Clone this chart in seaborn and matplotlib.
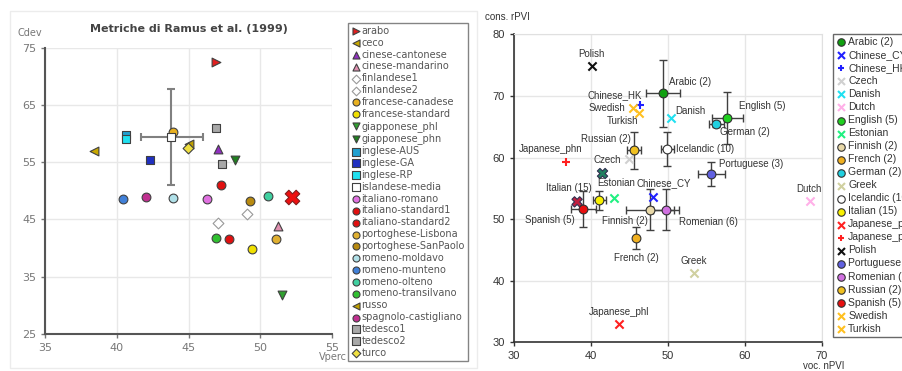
import numpy as np
import pandas as pd
import matplotlib
matplotlib.use("Agg")
import matplotlib.pyplot as plt
import seaborn as sns
from matplotlib.patches import Rectangle

# ---- left panel: Ramus metrics ----
names_l = ['arabo', 'ceco', 'cinese-cantonese', 'cinese-mandarino', 'finlandese1',
           'finlandese2', 'francese-canadese', 'francese-standard', 'giapponese_phl',
           'giapponese_phn', 'inglese-AUS', 'inglese-GA', 'inglese-RP', 'islandese-media',
           'italiano-romano', 'italiano-standard1', 'italiano-standard2',
           'portoghese-Lisbona', 'portoghese-SanPaolo', 'romeno-moldavo', 'romeno-munteno',
           'romeno-olteno', 'romeno-transilvano', 'russo', 'spagnolo-castigliano',
           'tedesco1', 'tedesco2', 'turco']
vperc = [46.9, 38.4, 47.06, 51.26, 47.06, 49.1, 43.9, 49.4, 51.54, 48.24, 40.65, 42.27,
         40.65, 43.8, 46.3, 47.24, 47.8, 51.1, 49.25, 43.9, 40.4, 50.5, 46.9, 45.0, 42.0,
         46.9, 47.3, 44.92]
cdev = [72.5, 57.0, 57.3, 43.8, 44.3, 46.0, 60.3, 39.85, 31.8, 55.3, 59.8, 55.4, 59.0,
        59.35, 48.6, 51.0, 41.65, 41.6, 48.2, 48.7, 48.6, 49.15, 41.8, 58.1, 49.0, 60.9,
        54.75, 57.5]
iceland_xerr = [[2.1], [2.2]]
iceland_yerr = [[8.35], [8.35]]
extra_l = (52.2, 48.9)

colors_l = ['#e02020', '#c8a800', '#9030c0', '#e090b0', '#ffffff', '#ffffff', '#e8b020',
            '#f0e000', '#30a030', '#208020', '#20a0d0', '#2030c0', '#20e0f0', '#ffffff',
            '#e070e0', '#e01010', '#e01010', '#e0b030', '#b88a10', '#b0e0e8', '#4080d8',
            '#40d0a0', '#30c030', '#c0a000', '#c03090', '#a8a8a8', '#a8a8a8', '#f0e040']
markers_l = ['>', '<', '^', '^', 'D', 'D', 'o', 'o', 'v', 'v', 's', 's', 's', 's', 'o',
             'o', 'o', 'o', 'o', 'o', 'o', 'o', 'o', '<', 'o', 's', 's', 'D']

# ---- right panel: PVI ----
names_r = ['Arabic (2)', 'Chinese_CY', 'Chinese_HK', 'Czech', 'Danish', 'Dutch',
           'English (5)', 'Estonian', 'Finnish (2)', 'French (2)', 'German (2)', 'Greek',
           'Icelandic (10)', 'Italian (15)', 'Japanese_phl', 'Japanese_phn', 'Polish',
           'Portuguese (3)', 'Romenian (6)', 'Russian (2)', 'Spanish (5)', 'Swedish',
           'Turkish']
npvi = [49.35, 48.05, 46.4, 44.9, 50.35, 68.4, 57.7, 43.0, 47.7, 45.85, 56.3, 53.4,
        49.9, 41.1, 43.6, 36.7, 40.1, 55.6, 49.75, 45.6, 39.0, 45.4, 46.2]
rpvi = [70.4, 53.6, 68.6, 59.8, 66.4, 53.0, 66.4, 53.5, 51.55, 46.9, 65.4, 41.2, 61.4,
        53.05, 32.9, 59.3, 74.8, 57.3, 51.55, 61.2, 51.6, 68.0, 67.2]
xerr_r = [2.25, 0, 0, 0, 0, 0, 2.0, 0, 3.1, 0, 1.0, 0, 0.85, 0.8, 0, 0, 0, 1.75, 1.65,
          0.9, 1.6, 0, 0]
yerr_r = [5.5, 0, 0, 0, 0, 0, 4.2, 0, 3.3, 1.8, 0.5, 0, 2.8, 1.5, 0, 0, 0, 2.0, 3.3,
          3.0, 2.9, 0, 0]
extra_r_x = [41.5, 38.2]
extra_r_y = [57.4, 52.8]

colors_r = ['#10a010', '#2020ff', '#2020ff', '#d0d0d0', '#20e0f0', '#ffb0e8', '#20d020',
            '#20f080', '#e8d8a8', '#f0b020', '#20d0e0', '#d0d0a0', '#ffffff', '#f8f000',
            '#ff2020', '#ff2020', '#101010', '#6060e0', '#d070e0', '#f0c020', '#e81010',
            '#ffc020', '#ffc020']
markers_r = ['o', 'x', '+', 'x', 'x', 'x', 'o', 'x', 'o', 'o', 'o', 'x', 'o', 'o', 'x',
             '+', 'x', 'o', 'o', 'o', 'o', 'x', 'x']

# label offsets (pixels) and alignment for right-panel annotations
label_off = {
    'Polish': (0, 12, 'center'), 'Arabic (2)': (6, 11, 'left'),
    'Chinese_HK': (2, 9, 'right'), 'Swedish': (-7, 0, 'right'),
    'Turkish': (-16, -8, 'center'), 'Danish': (5, 7, 'left'),
    'English (5)': (12, 12, 'left'), 'German (2)': (4, -8, 'left'),
    'Russian (2)': (-3, 11, 'right'), 'Icelandic (10)': (9, 0, 'left'),
    'Czech': (-8, -1, 'right'), 'Japanese_phn': (-15, 13, 'center'),
    'Portuguese (3)': (8, 10, 'left'), 'Estonian': (-17, 15, 'left'),
    'Chinese_CY': (-16, 14, 'left'), 'Italian (15)': (-8, 12, 'right'),
    'Spanish (5)': (-9, -11, 'right'), 'Finnish (2)': (-2, -11, 'right'),
    'Romenian (6)': (13, -12, 'left'), 'French (2)': (0, -20, 'center'),
    'Greek': (0, 12, 'center'), 'Japanese_phl': (0, 12, 'center'),
    'Dutch': (-1, 12, 'center'),
}
rfont = ['Liberation Sans', 'DejaVu Sans']

sns.set_style("white")
plt.rcParams['font.family'] = ['DejaVu Sans']

fig = plt.figure(figsize=(9.02, 3.71), dpi=100)
fig.patches.append(Rectangle((10 / 902, 3 / 371), 467 / 902, 357 / 371,
                             transform=fig.transFigure, fill=False,
                             edgecolor='#ececec', lw=1))

# ---------- left ----------
ax1 = fig.add_axes([0.0502, 0.0997, 0.318, 0.772])
ax1.errorbar(vperc[13], cdev[13], xerr=iceland_xerr, yerr=iceland_yerr, fmt='none',
             ecolor='#808080', elinewidth=1.5, capsize=3, capthick=1.5, zorder=2)
for n, x, y, c, m in zip(names_l, vperc, cdev, colors_l, markers_l):
    ec = '#999999' if c == '#ffffff' and m == 'D' else '#404040'
    sz = 40 if m != 'D' else 30
    sns.scatterplot(x=[x], y=[y], marker=m, color=c, edgecolor=ec, linewidth=0.8,
                    s=sz, label=n, ax=ax1, zorder=3)
ax1.scatter([extra_l[0]], [extra_l[1]], marker='X', s=110, color='#ee1010',
            edgecolor='#802020', linewidth=0.8, zorder=4)
ax1.set_xlim(35, 55)
ax1.set_ylim(25, 75)
ax1.set_xticks([35, 40, 45, 50, 55])
ax1.set_yticks([25, 35, 45, 55, 65, 75])
ax1.grid(True, color='#e8e8e8', lw=1)
ax1.set_axisbelow(True)
for s in ['top', 'right']:
    ax1.spines[s].set_visible(False)
for s in ['left', 'bottom']:
    ax1.spines[s].set_color('#555555')
    ax1.spines[s].set_linewidth(1.5)
ax1.tick_params(labelsize=8, colors='#777777', length=3, width=1,
                left=True, bottom=True)
ax1.set_xlabel('')
ax1.set_ylabel('')
ax1.set_title('Metriche di Ramus et al. (1999)', fontsize=8, fontweight='bold',
              color='#444444', pad=11)
fig.text(17 / 902, 1 - 33 / 371, 'Cdev', fontsize=7, color='#777777', va='center')
fig.text(319 / 902, 1 - 357 / 371, 'Vperc', fontsize=7, color='#777777', va='center')
leg1 = ax1.legend(loc='upper left', bbox_to_anchor=(348 / 902, 1 - 23 / 371),
                  bbox_transform=fig.transFigure, fontsize=7, frameon=True,
                  fancybox=False, edgecolor='#666666', labelspacing=0.19,
                  handletextpad=0.1, handlelength=1.0, borderpad=0.3,
                  borderaxespad=0, labelcolor='#555555', markerscale=0.8)
leg1.get_frame().set_linewidth(1.0)

# ---------- right ----------
ax2 = fig.add_axes([0.5698, 0.0774, 0.3415, 0.830])
for x, y, xe, ye in zip(npvi, rpvi, xerr_r, yerr_r):
    if xe or ye:
        ax2.errorbar(x, y, xerr=xe if xe else None, yerr=ye if ye else None,
                     fmt='none', ecolor='#404040', elinewidth=1, capsize=3,
                     capthick=1, zorder=2)
ax2.scatter(extra_r_x, extra_r_y, marker='X', s=55, color=['#208060', '#c02040'],
            edgecolor='#303050', linewidth=0.8, zorder=3)
for n, x, y, c, m in zip(names_r, npvi, rpvi, colors_r, markers_r):
    if m == 'o':
        sns.scatterplot(x=[x], y=[y], marker='o', color=c, edgecolor='#303030',
                        linewidth=0.8, s=40, label=n, ax=ax2, zorder=4)
    else:
        sns.scatterplot(x=[x], y=[y], marker=m, color=c, linewidth=1.5, s=35,
                        label=n, ax=ax2, zorder=4)
    dx, dy, ha = label_off[n]
    ax2.annotate(n, (x, y), xytext=(dx, dy), textcoords='offset pixels', ha=ha,
                 va='center', fontsize=7, color='#333333', family=rfont)
ax2.set_xlim(30, 70)
ax2.set_ylim(30, 80)
ax2.set_xticks([30, 40, 50, 60, 70])
ax2.set_yticks([30, 40, 50, 60, 70, 80])
ax2.grid(True, color='#e6e6e6', lw=1)
ax2.set_axisbelow(True)
for s in ['top', 'right']:
    ax2.spines[s].set_color('#e0e0e0')
for s in ['left', 'bottom']:
    ax2.spines[s].set_color('#333333')
    ax2.spines[s].set_linewidth(1.2)
ax2.tick_params(labelsize=8, colors='#333333', length=3, width=1,
                left=True, bottom=True)
for lab in ax2.get_xticklabels() + ax2.get_yticklabels():
    lab.set_family(rfont)
ax2.set_xlabel('')
ax2.set_ylabel('')
fig.text(485 / 902, 1 - 17 / 371, 'cons. rPVI', fontsize=7, color='#333333',
         va='center', family=rfont)
fig.text(803 / 902, 1 - 366 / 371, 'voc. nPVI', fontsize=7, color='#333333',
         va='center', family=rfont)
leg2 = ax2.legend(loc='upper left', bbox_to_anchor=(833 / 902, 1 - 34 / 371),
                  bbox_transform=fig.transFigure, frameon=True,
                  prop={'family': rfont, 'size': 7.5},
                  fancybox=False, edgecolor='#444444', labelspacing=0.29,
                  handletextpad=0.15, handlelength=1.0, borderpad=0.3,
                  borderaxespad=0, labelcolor='#333333', markerscale=0.85)
leg2.get_frame().set_linewidth(1.0)

fig.savefig('out.png', dpi=100)
